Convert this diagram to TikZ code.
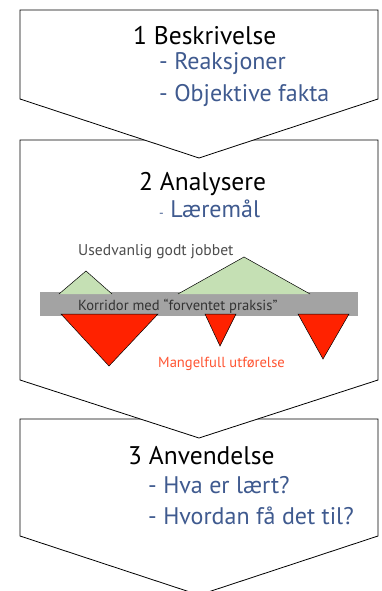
\documentclass[tikz,border=0pt]{standalone}
\usepackage{fontspec}
\setmainfont{PT Sans}
\definecolor{tekstblaa}{HTML}{3F5A8F}
\definecolor{korridorgraa}{HTML}{A3A3A3}
\definecolor{godgroenn}{HTML}{C5E0B4}
\definecolor{mangelrod}{HTML}{FF2200}
\definecolor{mangeltekst}{HTML}{FF5533}
\begin{document}
\begin{tikzpicture}[x=1pt,y=-1pt,
    pil/.style={draw=black,fill=white,line width=0.8pt},
    tittel/.style={anchor=base west,inner sep=0pt,font=\fontsize{25.5}{30}\selectfont},
    punkt/.style={anchor=base west,inner sep=0pt,text=tekstblaa,font=\fontsize{24}{28}\selectfont},
    merknad/.style={anchor=base west,inner sep=0pt,font=\fontsize{14.6}{17}\selectfont}]

        % 画布大小
        \useasboundingbox (0,0) rectangle (382,591);

        % 第三个箭头框
        \filldraw[pil] (20,419) -- (378,419) -- (378,536) -- (199,595) -- (20,536) -- cycle;
        \node[tittel] (anv) at (128,464) {3 Anvendelse};
        \node[punkt] (anv1) at (148,493) {- Hva er lært?};
        \node[punkt] (anv2) at (148,524) {- Hvordan få det til?};

        % 第二个箭头框
        \filldraw[pil] (20,140) -- (378,140) -- (378,380) -- (199,438) -- (20,380) -- cycle;
        \node[tittel] (ana) at (139,190) {2 Analysere};
        \node[punkt] (ana1) at (159,217) {{\fontsize{13}{15}\selectfont-} Læremål};

        % 走廊与三角形
        \fill[korridorgraa] (40,292) rectangle (358,316);
        \filldraw[fill=godgroenn,draw=black,line width=0.5pt] (59,294) -- (86,271) -- (112,294); % 小绿三角
        \filldraw[fill=godgroenn,draw=black,line width=0.5pt] (178,294) -- (244,257) -- (310,294); % 大绿三角
        \filldraw[fill=mangelrod,draw=black,line width=0.5pt] (61,314) -- (158,314) -- (109,366) -- cycle;
        \filldraw[fill=mangelrod,draw=black,line width=0.5pt] (205,314) -- (236,314) -- (220,346) -- cycle;
        \filldraw[fill=mangelrod,draw=black,line width=0.5pt] (298,314) -- (349,314) -- (323,359) -- cycle;
        \node[merknad,text=black!70,font=\fontsize{15.6}{18}\selectfont] (god) at (78,255) {Usedvanlig godt jobbet};
        \node[merknad,text=black!80] (korr) at (78,310) {Korridor med “forventet praksis”};
        \node[merknad,text=mangeltekst] (mangel) at (158,367) {Mangelfull utførelse};

        % 第一个箭头框
        \filldraw[pil] (20,10) -- (378,10) -- (378,99) -- (199,158) -- (20,99) -- cycle;
        \node[tittel] (besk) at (133,45) {1 Beskrivelse};
        \node[punkt] (besk1) at (159,70) {- Reaksjoner};
        \node[punkt] (besk2) at (159,102) {- Objektive fakta};

\end{tikzpicture}
\end{document}
